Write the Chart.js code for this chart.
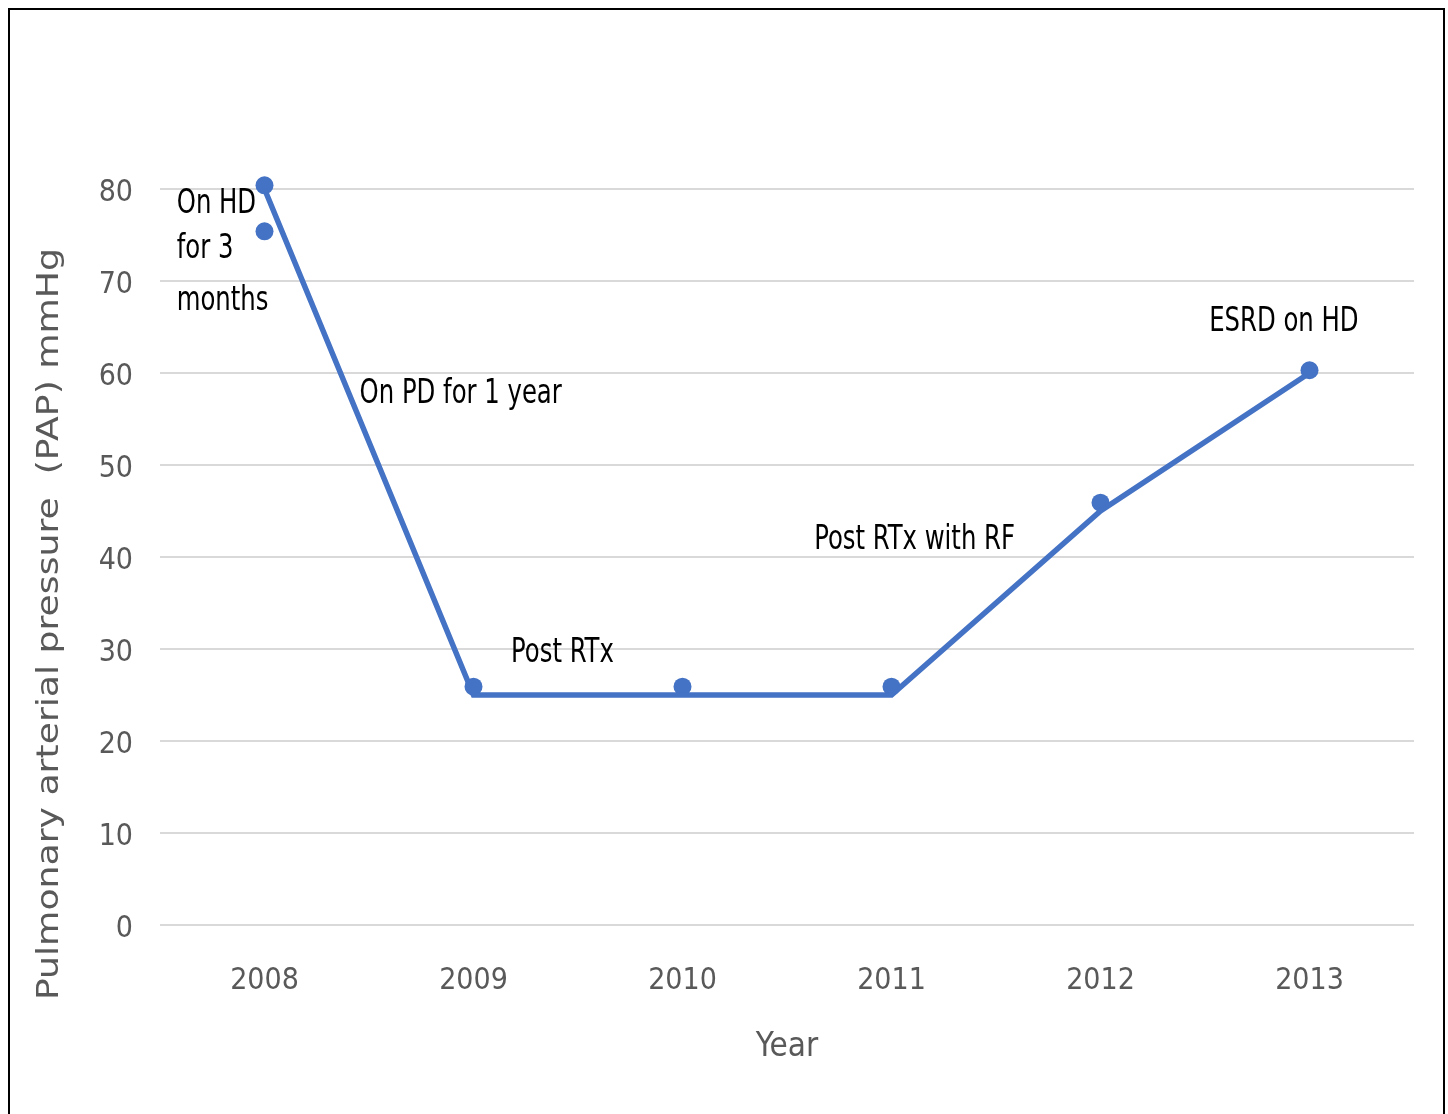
<!DOCTYPE html>
<html>
<head>
<meta charset="utf-8">
<script src="https://cdn.jsdelivr.net/npm/chart.js@4"></script>
<style>
  body { margin: 0; background: #fff; }
  #myChart { position: absolute; left: 0; top: 0; }
  .frame { position: absolute; left: 8px; top: 8px; width: 1433px; height: 1120px;
           border: 2px solid #000; pointer-events: none; }
</style>
</head>
<body>
<canvas id="myChart" width="1448" height="1114"></canvas>
<div class="frame"></div>
<script>
// PAP PAR ANNEE

const years = ['2008', '2009', '2010', '2011', '2012', '2013'];
const papLine = [80, 25, 25, 25, 45, 60];
const papMarkers = [80.4, 25.9, 25.9, 25.9, 45.9, 60.3];
const papExtra = [75.4, null, null, null, null, null];
const yTicks = [0, 10, 20, 30, 40, 50, 60, 70, 80];

// notes : position en categorie (index) et en valeur
const notes = [
    { text: 'On HD', x: -0.42, y: 78.3 },
    { text: 'for 3', x: -0.42, y: 73.4 },
    { text: 'months', x: -0.42, y: 67.8 },
    { text: 'On PD for 1 year', x: 0.455, y: 57.7 },
    { text: 'Post RTx', x: 1.18, y: 29.5 },
    { text: 'Post RTx with RF', x: 2.63, y: 41.8 },
    { text: 'ESRD on HD', x: 4.52, y: 65.5 },
];

const FONT = '"Liberation Sans Narrow", "DejaVu Sans Condensed", sans-serif';
const BLUE = '#4472C4';

const notesPlugin = {
    id: 'notes',
    afterDatasetsDraw(chart) {
        const ctx = chart.ctx;
        const xs = chart.scales.x, ys = chart.scales.y;
        ctx.save();
        ctx.font = '33px ' + FONT;
        ctx.fillStyle = '#000';
        ctx.textAlign = 'left';
        ctx.textBaseline = 'middle';
        notes.forEach(n => {
            const px = xs.getPixelForValue(0) + n.x * (xs.getPixelForValue(1) - xs.getPixelForValue(0));
            const py = ys.getPixelForValue(n.y);
            ctx.save();
            ctx.translate(px, py);
            ctx.scale(0.82, 1);
            ctx.fillText(n.text, 0, 0);
            ctx.restore();
        });
        ctx.restore();
    }
};

const yTitlePlugin = {
    id: 'yTitle',
    afterDraw(chart) {
        const ctx = chart.ctx;
        const text = 'Pulmonary arterial pressure  (PAP) mmHg';
        ctx.save();
        ctx.font = '30px ' + FONT;
        ctx.fillStyle = '#595959';
        ctx.textAlign = 'center';
        ctx.textBaseline = 'middle';
        ctx.translate(50, 624);
        ctx.rotate(-Math.PI / 2);
        const w = ctx.measureText(text).width;
        ctx.scale(752 / w, 1);
        ctx.fillText(text, 0, 0);
        ctx.restore();
    }
};

const data = {
    labels: years,
    datasets: [{
        label: 'PAP',
        data: papLine,
        borderColor: BLUE,
        borderWidth: 5.5,
        pointRadius: 0,
        tension: 0,
        borderJoinStyle: 'miter',
    }, {
        label: 'points',
        data: papMarkers,
        showLine: false,
        pointRadius: 9,
        pointBackgroundColor: BLUE,
        pointBorderColor: BLUE,
        pointBorderWidth: 0,
    }, {
        label: 'points 2008',
        data: papExtra,
        showLine: false,
        pointRadius: 9,
        pointBackgroundColor: BLUE,
        pointBorderColor: BLUE,
        pointBorderWidth: 0,
    }]
};

const config = {
    type: 'line',
    data: data,
    options: {
        responsive: false,
        animation: false,
        clip: false,
        layout: { padding: { left: 0, top: 189, right: 34, bottom: 0 } },
        plugins: {
            legend: { display: false },
            tooltip: { enabled: false },
        },
        scales: {
            x: {
                offset: true,
                grid: { display: false },
                border: { display: false },
                ticks: { font: { family: FONT, size: 30 }, color: '#595959', padding: 30 },
                title: {
                    display: true,
                    text: 'Year',
                    font: { family: FONT, size: 33 },
                    color: '#595959',
                    padding: { top: 0, bottom: 47 },
                },
                afterFit(scale) { scale.height = 189; },
            },
            y: {
                min: 0,
                max: 80,
                afterBuildTicks(scale) { scale.ticks = yTicks.map(v => ({ value: v })); },
                grid: { color: '#d9d9d9', lineWidth: 2, drawTicks: false },
                border: { display: false },
                ticks: { font: { family: FONT, size: 30 }, color: '#595959', padding: 27, labelOffset: 4 },
                afterFit(scale) { scale.width = 160; },
            }
        }
    },
    plugins: [notesPlugin, yTitlePlugin]
};

const myChart = new Chart(document.getElementById('myChart'), config);

// FIN PAP PAR ANNEE
</script>
</body>
</html>
